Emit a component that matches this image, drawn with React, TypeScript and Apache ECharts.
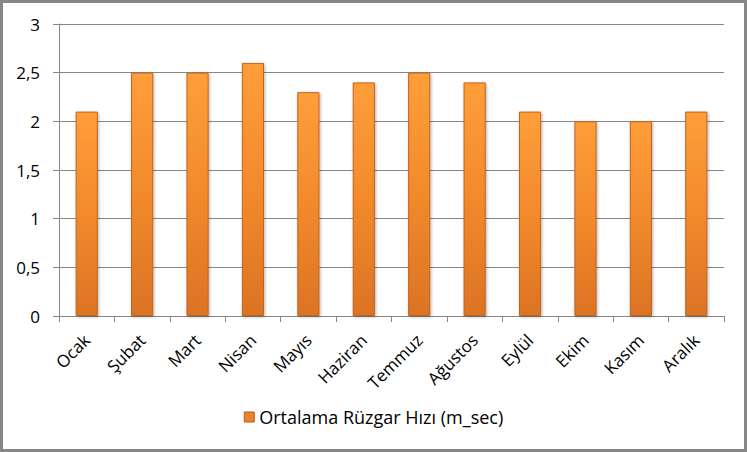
import React, { useEffect, useRef } from "react";
import * as echarts from "echarts";

const categories = ["Ocak", "Şubat", "Mart", "Nisan", "Mayıs", "Haziran", "Temmuz", "Ağustos", "Eylül", "Ekim", "Kasım", "Aralık"];
const windSpeed = [2.1, 2.5, 2.5, 2.6, 2.3, 2.4, 2.5, 2.4, 2.1, 2.0, 2.0, 2.1];
const seriesName = "Ortalama Rüzgar Hızı (m_sec)";

const FONT = "'Open Sans', 'Noto Sans', sans-serif";

export default function App() {
  const ref = useRef<HTMLDivElement>(null);
  useEffect(() => {
    if (!ref.current) return;
    const chart = echarts.init(ref.current, undefined, { renderer: "svg" });
    const barColor = new echarts.graphic.LinearGradient(0, 0, 0, 1, [
      { offset: 0, color: "#FF9E3A" },
      { offset: 0.5, color: "#F28A2C" },
      { offset: 1, color: "#DB7324" },
    ]);
    chart.setOption({
      animation: false,
      backgroundColor: "#ffffff",
      textStyle: { fontFamily: FONT },
      grid: { left: 59, right: 23, top: 24, bottom: 136, containLabel: false },
      legend: {
        bottom: 21,
        left: "center",
        itemWidth: 10,
        itemHeight: 10,
        itemGap: 5,
        icon: "rect",
        textStyle: { fontFamily: FONT, fontSize: 18, color: "#000" },
        data: [{ name: seriesName, itemStyle: { color: "#E8862A", borderColor: "#B85D16", borderWidth: 1 } }],
      },
      xAxis: {
        type: "category",
        data: categories,
        axisLine: { lineStyle: { color: "#868686", width: 1 } },
        axisTick: { show: true, alignWithLabel: false, length: 6, lineStyle: { color: "#868686" } },
        axisLabel: {
          rotate: 45,
          interval: 0,
          margin: 21,
          fontFamily: FONT,
          fontSize: 17,
          color: "#000",
        },
      },
      yAxis: {
        type: "value",
        min: 0,
        max: 3,
        interval: 0.5,
        axisLine: { show: true, lineStyle: { color: "#868686", width: 1 } },
        axisTick: { show: true, length: 6, lineStyle: { color: "#868686" } },
        splitLine: { lineStyle: { color: "#868686", width: 1 } },
        axisLabel: {
          margin: 19,
          fontFamily: FONT,
          fontSize: 17,
          color: "#000",
          formatter: (v: number) => String(v).replace(".", ","),
        },
      },
      series: [
        {
          name: seriesName,
          type: "bar",
          data: windSpeed,
          barWidth: "40%",
          itemStyle: {
            color: barColor,
            borderColor: "#C2631C",
            borderWidth: 1,
            shadowColor: "rgba(0,0,0,0.3)",
            shadowBlur: 3,
            shadowOffsetX: 1,
            shadowOffsetY: 1,
          },
        },
      ],
      graphic: [
        {
          type: "rect",
          shape: { x: 1.5, y: 1.5, width: 744, height: 449 },
          style: { fill: "none", stroke: "#868686", lineWidth: 3 },
          silent: true,
        },
      ],
    });
    return () => chart.dispose();
  }, []);
  return (
    <div
      ref={ref}
      style={{ position: "fixed", left: 0, top: 0, width: 747, height: 452 }}
    />
  );
}
